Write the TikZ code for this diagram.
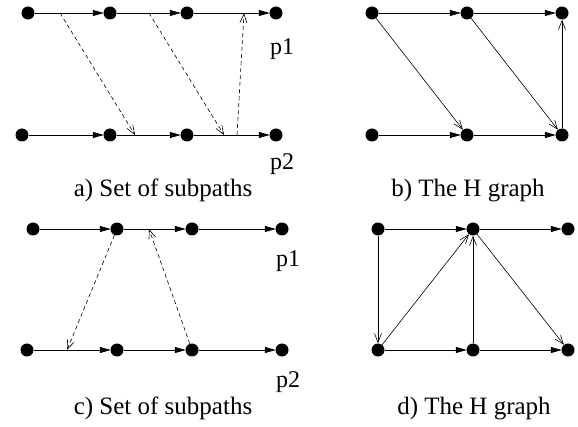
\documentclass[tikz,border=0pt]{standalone}
\usepackage{fontspec}
\setmainfont{Liberation Serif}
\usetikzlibrary{arrows.meta}
\begin{document}
\begin{tikzpicture}[x=1pt,y=-1pt,
  dot/.style={circle,fill=black,inner sep=0pt,minimum size=13pt},
  lbl/.style={inner sep=0pt,anchor=base west,font=\fontsize{24}{28}\selectfont},
  captext/.style={inner sep=0pt,anchor=base,font=\fontsize{25}{30}\selectfont},
  hedge/.style={line width=0.8pt,-{Triangle[length=11pt,width=6pt]},shorten >=-0.5pt},
  oedge/.style={line width=0.6pt,-{Straight Barb[length=9pt,width=7pt,line width=0.6pt]}},
  dedge/.style={oedge,dash pattern=on 4pt off 3pt}]
\useasboundingbox (0,0) rectangle (578,427);
% panel a
\node[dot] (a1) at (28,13) {};
\node[dot] (a2) at (110,13) {};
\node[dot] (a3) at (187,13) {};
\node[dot] (a4) at (276,13) {};
\node[dot] (a5) at (22,135) {};
\node[dot] (a6) at (110,135) {};
\node[dot] (a7) at (187,135) {};
\node[dot] (a8) at (276,135) {};
\draw[hedge] (a1) -- (a2);
\draw[hedge] (a2) -- (a3);
\draw[hedge] (a3) -- (a4);
\draw[hedge] (a5) -- (a6);
\draw[hedge] (a6) -- (a7);
\draw[hedge] (a7) -- (a8);
\coordinate (ca1) at (60,13);
\coordinate (ca2) at (135,135);
\coordinate (ca3) at (149,13);
\coordinate (ca4) at (224,135);
\coordinate (ca5) at (237,135);
\coordinate (ca6) at (244,13);
\draw[dedge] (ca1) -- (ca2);
\draw[dedge] (ca3) -- (ca4);
\draw[dedge] (ca5) -- (ca6);
\node[lbl] (ap1) at (270,55) {p1};
\node[lbl] (ap2) at (270,170) {p2};
\node[captext] (capa) at (163,197) {a) Set of subpaths};
% panel b
\node[dot] (b1) at (372,13) {};
\node[dot] (b2) at (467,13) {};
\node[dot] (b3) at (562,13) {};
\node[dot] (b4) at (372,135) {};
\node[dot] (b5) at (467,135) {};
\node[dot] (b6) at (562,135) {};
\draw[hedge] (b1) -- (b2);
\draw[hedge] (b2) -- (b3);
\draw[hedge] (b4) -- (b5);
\draw[hedge] (b5) -- (b6);
\draw[oedge] (b1) -- (b5);
\draw[oedge] (b2) -- (b6);
\draw[oedge] (b6) -- (b3);
\node[captext] (capb) at (468,197) {b) The H graph};
% panel c
\node[dot] (c1) at (33,229) {};
\node[dot] (c2) at (117,229) {};
\node[dot] (c3) at (192,229) {};
\node[dot] (c4) at (282,229) {};
\node[dot] (c5) at (27,350) {};
\node[dot] (c6) at (117,350) {};
\node[dot] (c7) at (192,350) {};
\node[dot] (c8) at (282,350) {};
\draw[hedge] (c1) -- (c2);
\draw[hedge] (c2) -- (c3);
\draw[hedge] (c3) -- (c4);
\draw[hedge] (c5) -- (c6);
\draw[hedge] (c6) -- (c7);
\draw[hedge] (c7) -- (c8);
\coordinate (cc1) at (67,350);
\coordinate (cc2) at (149,229);
\draw[dedge] (c2) -- (cc1);
\draw[dedge] (c7) -- (cc2);
\node[lbl] (cp1) at (276,267) {p1};
\node[lbl] (cp2) at (276,387) {p2};
\node[captext] (capc) at (163,414) {c) Set of subpaths};
% panel d
\node[dot] (d1) at (378,229) {};
\node[dot] (d2) at (473,229) {};
\node[dot] (d3) at (568,229) {};
\node[dot] (d4) at (378,350) {};
\node[dot] (d5) at (473,350) {};
\node[dot] (d6) at (568,350) {};
\draw[hedge] (d1) -- (d2);
\draw[hedge] (d2) -- (d3);
\draw[hedge] (d4) -- (d5);
\draw[hedge] (d5) -- (d6);
\draw[oedge] (d1) -- (d4);
\draw[oedge] (d4) -- (d2);
\draw[oedge] (d5) -- (d2);
\draw[oedge] (d2) -- (d6);
\node[captext] (capd) at (474,414) {d) The H graph};
\end{tikzpicture}
\end{document}
